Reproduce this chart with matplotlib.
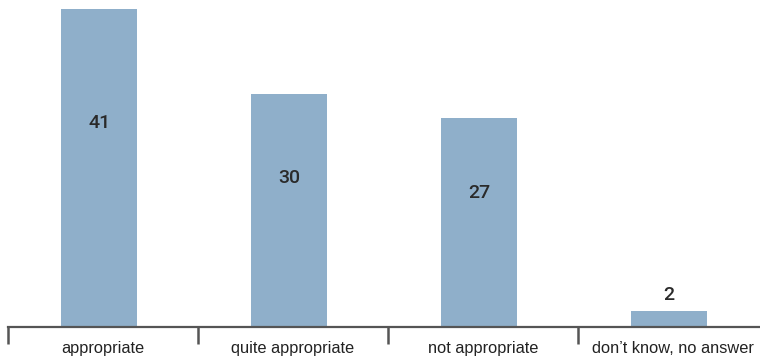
import matplotlib.pyplot as plt

# data
categories = ['appropriate', 'quite appropriate', 'not appropriate', 'don\u2019t know, no answer']
values = [41, 30, 27, 2]

bar_color = '#8fafca'
axis_color = '#555555'

plt.rcParams['font.family'] = ['Liberation Sans', 'DejaVu Sans']
fig = plt.figure(figsize=(7.6, 3.59), dpi=100)
# axis runs a bit past the right edge of the picture, like the original
ax = fig.add_axes([8 / 760, 32 / 359, 760 / 760, 327 / 359])

x = range(len(categories))
bars = ax.bar([xi - 0.02 for xi in x], values, width=0.4, color=bar_color, zorder=2)

# value labels: inside tall bars, above short ones
lab_font = dict(fontsize=14, family=['Roboto', 'Liberation Sans'], fontweight='medium', color='#2a2a2a')
for xi, v in zip(x, values):
    if v > 5:
        ax.text(xi - 0.02, v * 0.64, str(v), ha='center', va='center', **lab_font)
    else:
        ax.text(xi - 0.02, v + 1.0, str(v), ha='center', va='bottom', **lab_font)

ax.set_xlim(-0.5, 3.5)
ax.set_ylim(0, 41 * 327 / 318)

for s in ['top', 'right', 'left']:
    ax.spines[s].set_visible(False)
ax.spines['bottom'].set_color(axis_color)
ax.spines['bottom'].set_linewidth(1.6)
ax.set_yticks([])

ax.set_xticks(list(x))
ax.set_xticklabels(categories, fontsize=11.8, color='#222222')
ax.tick_params(axis='x', which='major', length=0, pad=10)
ax.set_xticks([-0.5, 0.5, 1.5, 2.5], minor=True)
ax.tick_params(axis='x', which='minor', length=12, width=1.8, color=axis_color, direction='out')

fig.savefig('out.png', dpi=100)
